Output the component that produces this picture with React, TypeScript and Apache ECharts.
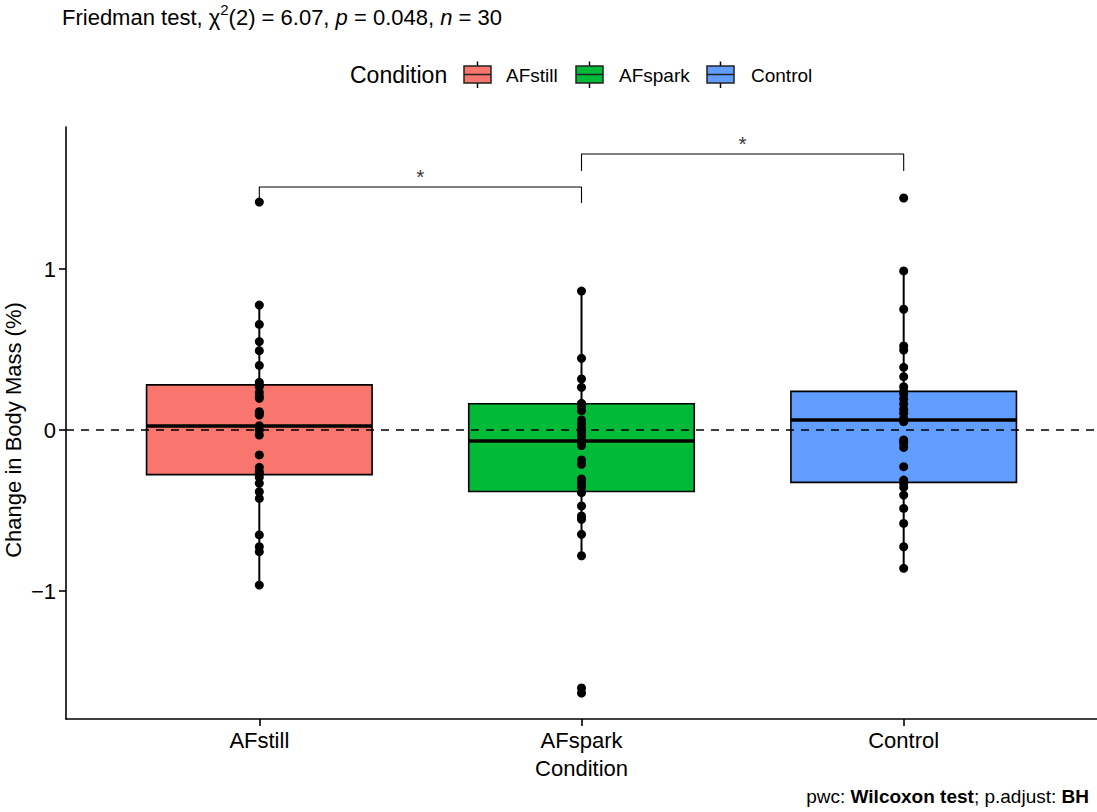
import React, { useEffect, useRef } from 'react';
import * as echarts from 'echarts';

const categories = ['AFstill', 'AFspark', 'Control'];
const fillColors = ['#F8766D', '#00BA38', '#619CFF'];

const afstillValues = [1.416, 0.776, 0.656, 0.549, 0.493, 0.401, 0.296, 0.28, 0.269, 0.234, 0.21, 0.197, 0.114, 0.105, 0.093, 0.027, 0.0, -0.031, -0.155, -0.232, -0.259, -0.27, -0.294, -0.331, -0.383, -0.425, -0.652, -0.725, -0.756, -0.963];
const afsparkValues = [0.863, 0.445, 0.317, 0.265, 0.166, 0.145, 0.12, 0.062, 0.037, 0.01, -0.005, -0.017, -0.041, -0.068, -0.08, -0.097, -0.186, -0.213, -0.304, -0.32, -0.331, -0.356, -0.389, -0.472, -0.534, -0.555, -0.648, -0.781, -1.602, -1.634];
const controlValues = [1.441, 0.988, 0.75, 0.522, 0.497, 0.389, 0.331, 0.269, 0.24, 0.224, 0.193, 0.161, 0.129, 0.104, 0.072, 0.06, 0.052, -0.062, -0.07, -0.083, -0.108, -0.228, -0.311, -0.331, -0.356, -0.404, -0.487, -0.58, -0.725, -0.859];

// [lower whisker, Q1, median, Q3, upper whisker]
const afstillBox = [-0.963, -0.277, 0.025, 0.28, 0.776];
const afsparkBox = [-0.781, -0.382, -0.068, 0.163, 0.863];
const controlBox = [-0.859, -0.325, 0.062, 0.24, 0.988];

const yTicks = [-1, 0, 1];
const yMin = -1.795;
const yMax = 1.882;
const yTitle = 'Change in Body Mass (%)';

// pairwise comparisons: [from, to, bracket y, tip bottom y, label]
const comparisons: [number, number, number, number, string][] = [
  [1, 2, 1.509, 1.41, '*'],
  [2, 3, 1.714, 1.609, '*'],
];

const FONT = '"Liberation Sans", Arial, Helvetica, sans-serif';

export default function App() {
  const ref = useRef<HTMLDivElement>(null);

  useEffect(() => {
    document.body.style.margin = '0';
    const chart = echarts.init(ref.current!, null, { renderer: 'svg' });

    const valueSets = [afstillValues, afsparkValues, controlValues];
    const boxes = [afstillBox, afsparkBox, controlBox];

    const boxData = boxes.map((b, i) => [i + 1, ...b]);
    const pointData: number[][] = [];
    valueSets.forEach((vals, i) => vals.forEach((v) => pointData.push([i + 1, v])));

    const bracketSeries = comparisons.map(([a, b, y, tip]) => ({
      type: 'line',
      data: [[a, tip], [a, y], [b, y], [b, tip]],
      symbol: 'none',
      lineStyle: { color: '#000', width: 1.1 },
      z: 5,
      silent: true,
    }));

    const starSeries = {
      type: 'scatter',
      data: comparisons.map(([a, b, y, , lab]) => ({ value: [(a + b) / 2, y], label: { formatter: lab } })),
      symbolSize: 0,
      label: {
        show: true,
        position: 'top',
        distance: 0,
        color: '#000',
        fontSize: 21,
        fontFamily: FONT,
      },
      z: 5,
      silent: true,
    };

    const legendItems: any[] = [];
    const keyX = [464, 576, 707];
    const textX = [506, 619, 751];
    categories.forEach((c, i) => {
      const x = keyX[i];
      legendItems.push(
        { type: 'line', shape: { x1: x + 13.5, y1: 61.5, x2: x + 13.5, y2: 88 }, style: { stroke: '#000', lineWidth: 1.5 } },
        { type: 'rect', shape: { x, y: 66, width: 27, height: 17 }, style: { fill: fillColors[i], stroke: '#222', lineWidth: 1.5 } },
        { type: 'line', shape: { x1: x, y1: 74.5, x2: x + 27, y2: 74.5 }, style: { stroke: '#222', lineWidth: 1.5 } },
        { type: 'text', x: textX[i], y: 75, style: { text: c, fill: '#000', font: `19px ${FONT}`, verticalAlign: 'middle' } },
      );
    });

    chart.setOption({
      animation: false,
      textStyle: { fontFamily: FONT },
      title: [
        {
          left: 62,
          top: 2,
          padding: 0,
          text: '{a|Friedman test, χ}{s|2}{a|(2) = 6.07, }{i|p}{a| = 0.048, }{i|n}{a| = 30}',
          textStyle: {
            fontWeight: 'normal',
            rich: {
              a: { fontSize: 22, fontFamily: FONT, color: '#000', fontWeight: 'normal', lineHeight: 26, verticalAlign: 'bottom' },
              i: { fontSize: 22, fontFamily: FONT, color: '#000', fontWeight: 'normal', fontStyle: 'italic', lineHeight: 26, verticalAlign: 'bottom' },
              s: { fontSize: 15, fontFamily: FONT, color: '#000', fontWeight: 'normal', lineHeight: 15, verticalAlign: 'top' },
            },
          },
        },
        {
          right: 3,
          bottom: 1,
          text: '{n|pwc: }{b|Wilcoxon test}{n|; p.adjust: }{b|BH}',
          textStyle: {
            fontWeight: 'normal',
            rich: {
              n: { fontSize: 19, fontFamily: FONT, color: '#000', fontWeight: 'normal' },
              b: { fontSize: 19, fontFamily: FONT, color: '#000', fontWeight: 'bold' },
            },
          },
        },
      ],
      graphic: [
        {
          type: 'group',
          children: [
            { type: 'text', x: 350, y: 75, style: { text: 'Condition', fill: '#000', font: `23px ${FONT}`, verticalAlign: 'middle' } },
            ...legendItems,
          ],
        },
        {
          type: 'text',
          x: 13,
          y: 430,
          rotation: Math.PI / 2,
          style: { text: yTitle, fill: '#000', font: `22px ${FONT}`, align: 'center', verticalAlign: 'middle' },
        },
      ],
      grid: { left: 66, right: 0, top: 127, bottom: 93, outerBoundsMode: 'none', containLabel: false },
      xAxis: {
        type: 'value',
        min: 0.4,
        max: 3.6,
        name: 'Condition',
        nameLocation: 'middle',
        nameGap: 38,
        nameTextStyle: { fontSize: 22, color: '#000', fontFamily: FONT },
        axisLine: { show: true, onZero: false, lineStyle: { color: '#000', width: 1.6 } },
        axisTick: { show: true, customValues: [1, 2, 3], length: 7, lineStyle: { color: '#000', width: 1.6 } },
        axisLabel: {
          customValues: [1, 2, 3],
          formatter: (v: number) => categories[Math.round(v) - 1] ?? '',
          fontSize: 22,
          color: '#000',
          margin: 10,
          fontFamily: FONT,
        },
        splitLine: { show: false },
      },
      yAxis: {
        type: 'value',
        min: yMin,
        max: yMax,
        axisLine: { show: true, onZero: false, lineStyle: { color: '#000', width: 1.6 } },
        axisTick: { show: true, customValues: yTicks, length: 7, lineStyle: { color: '#000', width: 1.6 } },
        axisLabel: {
          customValues: yTicks,
          formatter: (v: number) => (v < 0 ? '\u2212' + Math.abs(v) : String(v)),
          fontSize: 22,
          color: '#000',
          margin: 10,
          fontFamily: FONT,
        },
        splitLine: { show: false },
      },
      series: [
        {
          type: 'custom',
          data: boxData,
          encode: { x: 0, y: [1, 2, 3, 4, 5] },
          z: 2,
          silent: true,
          renderItem: (params: any, api: any) => {
            const x = api.value(0);
            const lo = api.coord([x, api.value(1)]);
            const q1 = api.coord([x, api.value(2)]);
            const med = api.coord([x, api.value(3)]);
            const q3 = api.coord([x, api.value(4)]);
            const hi = api.coord([x, api.value(5)]);
            const w = api.size([0.7, 0])[0];
            return {
              type: 'group',
              children: [
                { type: 'line', shape: { x1: lo[0], y1: lo[1], x2: hi[0], y2: hi[1] }, style: { stroke: '#000', lineWidth: 2 } },
                { type: 'rect', shape: { x: q3[0] - w / 2, y: q3[1], width: w, height: q1[1] - q3[1] }, style: { fill: fillColors[params.dataIndex], stroke: '#000', lineWidth: 1.6 } },
                { type: 'line', shape: { x1: med[0] - w / 2, y1: med[1], x2: med[0] + w / 2, y2: med[1] }, style: { stroke: '#000', lineWidth: 3.6 } },
              ],
            };
          },
        },
        {
          type: 'scatter',
          data: [],
          z: 3,
          silent: true,
          markLine: {
            silent: true,
            symbol: 'none',
            label: { show: false },
            lineStyle: { color: '#000', width: 1.6, type: [8, 7] },
            data: [{ yAxis: 0 }],
            z: 3,
          },
        },
        {
          type: 'scatter',
          data: pointData,
          symbolSize: 9,
          itemStyle: { color: '#000', opacity: 1 },
          z: 4,
          silent: true,
        },
        ...bracketSeries,
        starSeries,
      ],
    } as any);

    return () => chart.dispose();
  }, []);

  return <div ref={ref} style={{ width: 1097, height: 812 }} />;
}
